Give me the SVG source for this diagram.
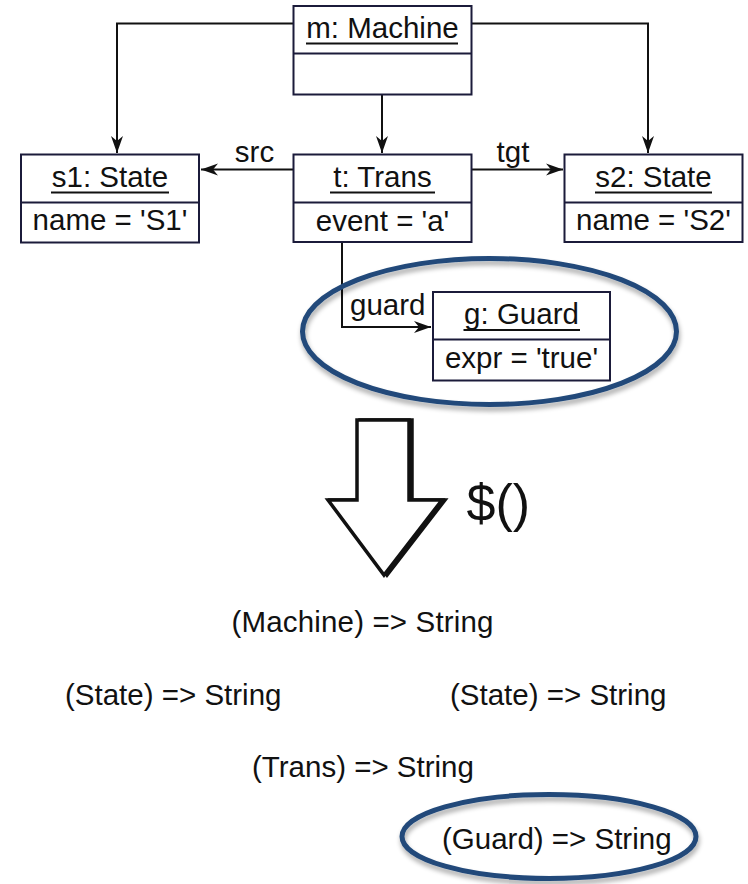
<svg xmlns="http://www.w3.org/2000/svg" width="748" height="884" viewBox="0 0 748 884">
  <style>
    .box { fill: #ffffff; stroke: #1b1b3a; stroke-width: 2; }
    .div { stroke: #1b1b3a; stroke-width: 2; }
    .ul { stroke: #111; stroke-width: 2; }
    .t { font-family: "Liberation Sans", Arial, sans-serif; font-size: 29.5px; fill: #111; }
    .c { text-anchor: middle; }
    .edge { fill: none; stroke: #111; stroke-width: 2; }
    .ring { fill: none; stroke: #21497a; stroke-width: 5; }
  </style>
  <defs>
    <marker id="arr" markerWidth="18" markerHeight="14" refX="17" refY="7" orient="auto" markerUnits="userSpaceOnUse">
      <path d="M0,1 L17,7 L0,13 L5,7 z" fill="#111"/>
    </marker>
    <filter id="shadow" x="-10%" y="-20%" width="120%" height="150%">
      <feGaussianBlur in="SourceAlpha" stdDeviation="2.5"/>
      <feOffset dx="1" dy="4" result="b"/>
      <feComponentTransfer><feFuncA type="linear" slope="0.35"/></feComponentTransfer>
      <feMerge><feMergeNode/><feMergeNode in="SourceGraphic"/></feMerge>
    </filter>
  </defs>

  <rect width="748" height="884" fill="#ffffff"/>

  <!-- connectors -->
  <g id="connectors">
    <polyline class="edge" points="293,23.5 117,23.5 117,153" marker-end="url(#arr)"/>
    <polyline class="edge" points="472,23.5 648,23.5 648,153" marker-end="url(#arr)"/>
    <line class="edge" x1="382" y1="95" x2="382" y2="153" marker-end="url(#arr)"/>
    <line class="edge" x1="293" y1="169.5" x2="201" y2="169.5" marker-end="url(#arr)"/>
    <line class="edge" x1="472" y1="169.5" x2="563" y2="169.5" marker-end="url(#arr)"/>
    <polyline class="edge" points="342,242 342,327 431,327" marker-end="url(#arr)"/>
    <text class="t c" x="254.5" y="162">src</text>
    <text class="t c" x="513" y="162">tgt</text>
    <text class="t" x="350" y="315">guard</text>
  </g>

  <!-- object nodes -->
  <g id="machine">
    <rect class="box" x="293.5" y="6" width="178" height="88.5"/>
    <line class="div" x1="293.5" y1="53.5" x2="471.5" y2="53.5"/>
    <text class="t c" x="382.5" y="37.5">m: Machine</text>
    <line class="ul" x1="306" y1="43.5" x2="458" y2="43.5"/>
  </g>

  <g id="s1">
    <rect class="box" x="21" y="154.5" width="178" height="88"/>
    <line class="div" x1="21" y1="202.5" x2="199" y2="202.5"/>
    <text class="t c" x="110" y="186.5">s1: State</text>
    <line class="ul" x1="51" y1="192.5" x2="169" y2="192.5"/>
    <text class="t c" x="110" y="230">name = 'S1'</text>
  </g>

  <g id="trans">
    <rect class="box" x="293.5" y="154.5" width="178" height="87.5"/>
    <line class="div" x1="293.5" y1="202.5" x2="471.5" y2="202.5"/>
    <text class="t c" x="382.5" y="186.5">t: Trans</text>
    <line class="ul" x1="330" y1="192.5" x2="435" y2="192.5"/>
    <text class="t c" x="382.5" y="230.5">event = 'a'</text>
  </g>

  <g id="s2">
    <rect class="box" x="564.5" y="154.5" width="178" height="87.5"/>
    <line class="div" x1="564.5" y1="202.5" x2="742.5" y2="202.5"/>
    <text class="t c" x="653.5" y="186.5">s2: State</text>
    <line class="ul" x1="595" y1="192.5" x2="712" y2="192.5"/>
    <text class="t c" x="653.5" y="230">name = 'S2'</text>
  </g>

  <g id="guard">
    <rect class="box" x="433" y="292" width="177" height="88.5"/>
    <line class="div" x1="433" y1="339.5" x2="610" y2="339.5"/>
    <text class="t c" x="521.5" y="324">g: Guard</text>
    <line class="ul" x1="463.5" y1="330" x2="580" y2="330"/>
    <text class="t c" x="521.5" y="368">expr = 'true'</text>
  </g>

  <!-- highlight rings -->
  <g id="highlight-guard">
    <ellipse class="ring" cx="489.5" cy="331.5" rx="187" ry="73" filter="url(#shadow)"/>
  </g>

  <!-- transformation arrow -->
  <g id="transform-arrow">
    <polygon points="360,420 412,420 412,500 445,500 387,575 331,500 360,500" fill="#111" stroke="#111" stroke-width="3.5" stroke-linejoin="miter"/>
    <polygon points="357,420 409,420 409,500 442,500 384,575 328,500 357,500" fill="#ffffff" stroke="#111" stroke-width="3.5" stroke-linejoin="miter"/>
    <text x="466.5" y="521" font-family="Liberation Sans, Arial, sans-serif" font-size="52" fill="#111">$()</text>
  </g>

  <!-- generated function signatures -->
  <g id="sig-machine"><text class="t" x="231.5" y="632" textLength="262">(Machine) =&gt; String</text></g>
  <g id="sig-state1"><text class="t" x="65" y="705">(State) =&gt; String</text></g>
  <g id="sig-state2"><text class="t" x="450" y="705">(State) =&gt; String</text></g>
  <g id="sig-trans"><text class="t" x="252" y="777">(Trans) =&gt; String</text></g>
  <g id="sig-guard">
    <text class="t" x="442" y="848.5">(Guard) =&gt; String</text>
    <ellipse class="ring" cx="549" cy="836.5" rx="147" ry="42" filter="url(#shadow)"/>
  </g>
</svg>
